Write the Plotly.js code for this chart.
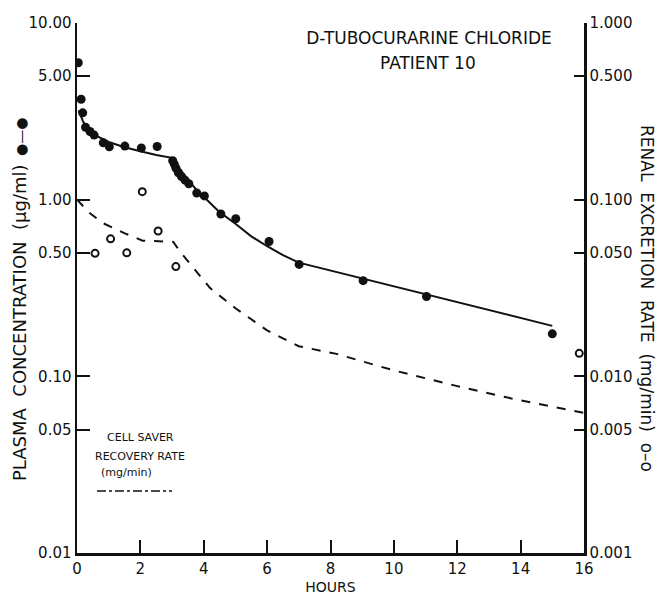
<!DOCTYPE html>
<html>
<head>
<meta charset="utf-8">
<script src="https://cdn.plot.ly/plotly-3.0.1.min.js"></script>
<style>html,body{margin:0;padding:0;background:#fff;}#chart{width:660px;height:597px;}</style>
</head>
<body>
<div id="chart"></div>
<script>
// Plasma concentration (µg/ml) – filled circles
const plasmaHours = [0.04, 0.13, 0.18, 0.27, 0.41, 0.54, 0.83, 1.02, 1.51, 2.03, 2.53, 3.02, 3.07, 3.12, 3.20, 3.30, 3.41, 3.53, 3.78, 4.02, 4.54, 5.01, 6.06, 7.01, 9.03, 11.03, 15.0];
const plasmaConc  = [5.96, 3.70, 3.10, 2.57, 2.43, 2.32, 2.10, 1.99, 2.01, 1.96, 2.00, 1.66, 1.59, 1.51, 1.42, 1.35, 1.29, 1.23, 1.09, 1.05, 0.83, 0.78, 0.58, 0.43, 0.348, 0.283, 0.174];

// Fitted plasma curve (solid)
const fitHours = [0.05, 0.2, 0.4, 0.6, 1.0, 1.5, 2.0, 2.5, 3.04, 3.2, 3.5, 3.8, 4.0, 4.5, 5.0, 5.5, 6.0, 6.5, 7.0, 8.0, 9.0, 10.0, 11.0, 12.0, 13.0, 14.0, 15.0];
const fitConc  = [3.2, 2.75, 2.45, 2.3, 2.12, 1.98, 1.88, 1.79, 1.72, 1.53, 1.30, 1.12, 1.04, 0.85, 0.73, 0.62, 0.545, 0.485, 0.44, 0.397, 0.358, 0.323, 0.291, 0.263, 0.237, 0.214, 0.193];

// Renal excretion rate (mg/min) – open circles
const renalHours = [0.57, 1.06, 1.57, 2.06, 2.56, 3.12, 15.85];
const renalRate  = [0.0497, 0.060, 0.050, 0.111, 0.0665, 0.0418, 0.0135];

// Fitted renal curve (dashed)
const renalFitHours = [0, 0.4, 0.83, 1.51, 2.07, 2.78, 3.04, 3.25, 3.72, 4.2, 5.0, 6.0, 7.0, 8.19, 10.0, 12.0, 13.71, 16.0];
const renalFitRate  = [0.100, 0.084, 0.0735, 0.0645, 0.0586, 0.0577, 0.0577, 0.0508, 0.040, 0.0316, 0.0243, 0.0182, 0.0148, 0.0134, 0.0108, 0.0088, 0.0075, 0.0062];

const xTicks = [0, 2, 4, 6, 8, 10, 12, 14, 16];
const leftTicks = [0.01, 0.05, 0.1, 0.5, 1, 5, 10];
const leftTickText = ["0.01", "0.05", "0.10", "0.50", "1.00", "5.00", "10.00"];
const rightTicks = [0.001, 0.005, 0.01, 0.05, 0.1, 0.5, 1];
const rightTickText = ["0.001", "0.005", "0.010", "0.050", "0.100", "0.500", "1.000"];

const INK = '#111';
const FONT = 'DejaVu Sans, sans-serif';

const traces = [
  {x: fitHours, y: fitConc, mode: 'lines', line: {color: INK, width: 2}, yaxis: 'y', showlegend: false, hoverinfo: 'skip'},
  {x: renalFitHours, y: renalFitRate, mode: 'lines', line: {color: INK, width: 2, dash: '9px,9px'}, yaxis: 'y2', showlegend: false, hoverinfo: 'skip'},
  {x: plasmaHours, y: plasmaConc, mode: 'markers', marker: {color: INK, size: 9, symbol: 'circle'}, yaxis: 'y', showlegend: false},
  {x: renalHours, y: renalRate, mode: 'markers', marker: {color: '#fff', size: 7, symbol: 'circle', line: {color: INK, width: 2}}, yaxis: 'y2', showlegend: false}
];

const L = 77, R = 584, T = 23, B = 553;
const px = v => (v - L) / (R - L);
const py = v => (B - v) / (B - T);

const layout = {
  width: 660, height: 597,
  margin: {l: L, r: 660 - R, t: T, b: 597 - B, pad: 0},
  paper_bgcolor: '#fff', plot_bgcolor: '#fff',
  font: {family: FONT, color: INK, size: 15},
  title: {text: 'D-TUBOCURARINE CHLORIDE', font: {family: FONT, size: 17, color: INK}, xref: 'paper', x: px(429), xanchor: 'center', yref: 'container', y: 1 - 38 / 597, yanchor: 'middle'},
  xaxis: {
    range: [0, 16], tickvals: xTicks, ticktext: xTicks.map(String),
    ticks: 'inside', ticklen: 13, tickwidth: 2, tickcolor: INK,
    showline: true, linewidth: 2.5, linecolor: INK, mirror: false,
    showgrid: false, zeroline: false,
    tickfont: {family: FONT, size: 15, color: INK},
    title: {text: 'HOURS', font: {family: FONT, size: 14, color: INK}, standoff: 6}
  },
  yaxis: {
    type: 'log', range: [-2, 1], tickvals: leftTicks, ticktext: leftTickText,
    ticks: 'inside', ticklen: 13, tickwidth: 2, tickcolor: INK,
    showline: true, linewidth: 2.5, linecolor: INK,
    showgrid: false, zeroline: false,
    tickfont: {family: FONT, size: 15, color: INK}
  },
  yaxis2: {
    type: 'log', range: [-3, 0], overlaying: 'y', side: 'right',
    tickvals: rightTicks, ticktext: rightTickText,
    ticks: 'inside', ticklen: 10, tickwidth: 2, tickcolor: INK,
    showline: true, linewidth: 2.5, linecolor: INK,
    showgrid: false, zeroline: false,
    tickfont: {family: FONT, size: 15, color: INK}
  },
  annotations: [
    {text: 'PATIENT 10', xref: 'paper', yref: 'paper', x: px(428), y: py(63), xanchor: 'center', yanchor: 'middle', showarrow: false, font: {family: FONT, size: 17, color: INK}},
    {text: 'PLASMA  CONCENTRATION  (µg/ml)', xref: 'paper', yref: 'paper', x: px(19), y: py(323), xanchor: 'center', yanchor: 'middle', textangle: -90, showarrow: false, font: {family: FONT, size: 18, color: INK}},
    {text: '●—●', xref: 'paper', yref: 'paper', x: px(21), y: py(137), xanchor: 'center', yanchor: 'middle', textangle: -90, showarrow: false, font: {family: FONT, size: 14, color: INK}},
    {text: 'RENAL  EXCRETION  RATE  (mg/min)  o–o', xref: 'paper', yref: 'paper', x: px(647), y: py(298), xanchor: 'center', yanchor: 'middle', textangle: 90, showarrow: false, font: {family: FONT, size: 17, color: INK}},
    {text: 'CELL SAVER', xref: 'paper', yref: 'paper', x: px(140), y: py(437.5), xanchor: 'center', yanchor: 'middle', showarrow: false, font: {family: FONT, size: 11, color: INK}},
    {text: 'RECOVERY RATE', xref: 'paper', yref: 'paper', x: px(140), y: py(456), xanchor: 'center', yanchor: 'middle', showarrow: false, font: {family: FONT, size: 11, color: INK}},
    {text: '(mg/min)', xref: 'paper', yref: 'paper', x: px(126), y: py(472), xanchor: 'center', yanchor: 'middle', showarrow: false, font: {family: FONT, size: 11, color: INK}}
  ],
  shapes: [
    {type: 'line', xref: 'paper', yref: 'paper', x0: px(97), x1: px(172), y0: py(491), y1: py(491), line: {color: INK, width: 1.5, dash: 'dashdot'}}
  ]
};

Plotly.newPlot('chart', traces, layout, {displayModeBar: false, staticPlot: true});
</script>
</body>
</html>
